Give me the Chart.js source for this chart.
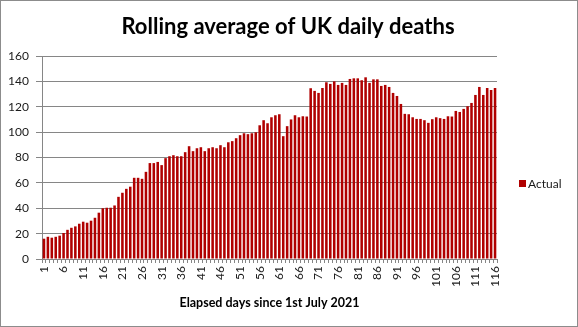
<!DOCTYPE html>
<html>
<head>
<meta charset="utf-8">
<script src="https://cdn.jsdelivr.net/npm/chart.js@4"></script>
<style>
html,body{margin:0;padding:0;background:#fff;}
canvas{display:block;}
</style>
</head>
<body>
<canvas id="c" width="578" height="327"></canvas>
<script>
const days = ['1','2','3','4','5','6','7','8','9','10','11','12','13','14','15','16','17','18','19','20',
'21','22','23','24','25','26','27','28','29','30','31','32','33','34','35','36','37','38','39','40',
'41','42','43','44','45','46','47','48','49','50','51','52','53','54','55','56','57','58','59','60',
'61','62','63','64','65','66','67','68','69','70','71','72','73','74','75','76','77','78','79','80',
'81','82','83','84','85','86','87','88','89','90','91','92','93','94','95','96','97','98','99','100',
'101','102','103','104','105','106','107','108','109','110','111','112','113','114','115','116'];

const actual = [16,17.5,16.8,17.5,18.4,20.5,23,24.6,25.7,27.8,
29.4,28.6,30.2,32.5,36.5,40,40.4,40.4,42.2,49,
52.2,55.3,57,64,64,63.2,68.7,75.6,75.6,76.5,
74,79.5,81,81.8,81,81,84.2,88.9,85,87.3,
88.1,85,87.3,88.1,87.3,89.7,88.1,92,92.9,95.2,
97.6,99.1,98.4,99.1,99.9,105.4,109.4,107,111.7,113.3,
114.1,96.8,104.7,110,113.3,111.7,112.5,112.3,134.6,132.5,
130.9,134.8,139.3,138,140,137.2,138.8,137.2,141.9,142.4,
142.4,140.9,143.2,138.8,141.6,141.6,136.4,137.2,135.6,130.9,
128.5,122.2,114.4,114.1,111.7,110.4,110.4,109.4,107.3,110.2,
111.7,111,110.4,112.5,112.3,116.7,115.9,118.3,120.4,123,
129.3,135.6,129.3,134.8,133.2,134.8];

const shownDayLabels = ['1','6','11','16','21','26','31','36','41','46','51','56','61','66','71','76','81','86','91','96','101','106','111','116'];
const yTicks = [0,20,40,60,80,100,120,140,160];

const seriesName = 'Actual';
const titleText = 'Rolling average of UK daily deaths';
const xTitle = 'Elapsed days since 1st July 2021';

const barColor = '#B00000';
const gridColor = '#868686';
const FONT = 'Lato, "Open Sans", "Liberation Sans", sans-serif';

const framePlugin = {
  id: 'frame',
  beforeDraw(chart) {
    const ctx = chart.ctx;
    ctx.save();
    ctx.fillStyle = '#fff';
    ctx.fillRect(0, 0, chart.width, chart.height);
    ctx.restore();
  },
  afterDraw(chart) {
    const ctx = chart.ctx;
    ctx.save();
    ctx.strokeStyle = '#8c8c8c';
    ctx.lineWidth = 1;
    ctx.strokeRect(0.5, 0.5, chart.width - 1, chart.height - 1);
    // title
    ctx.fillStyle = '#000';
    ctx.font = 'bold 22px ' + FONT;
    ctx.textAlign = 'center';
    ctx.textBaseline = 'middle';
    ctx.fillText(titleText, 288, 27);
    // legend
    const ds = chart.data.datasets[0];
    ctx.fillStyle = ds.backgroundColor;
    ctx.fillRect(519, 180, 7, 7);
    ctx.fillStyle = '#1a1a1a';
    ctx.font = '12px ' + FONT;
    ctx.textBaseline = 'middle';
    ctx.textAlign = 'left';
    ctx.fillText(ds.label, 528, 184);
    ctx.restore();
  }
};

new Chart(document.getElementById('c'), {
  type: 'bar',
  data: {
    labels: days,
    datasets: [{
      label: seriesName,
      data: actual,
      backgroundColor: barColor,
      borderWidth: 0,
      barPercentage: 0.65,
      categoryPercentage: 1.0
    }]
  },
  options: {
    responsive: false,
    animation: false,
    devicePixelRatio: 1,
    layout: { padding: { left: 0, right: 81, top: 56, bottom: 0 } },
    plugins: {
      legend: { display: false },
      tooltip: { enabled: false },
      title: { display: false }
    },
    scales: {
      x: {
        offset: true,
        afterFit(axis) { axis.height = 68; },
        grid: { display: true, drawOnChartArea: false, drawTicks: true, tickLength: 4, color: gridColor, offset: true },
        border: { display: true, color: gridColor },
        ticks: {
          autoSkip: false,
          maxRotation: 90,
          minRotation: 90,
          padding: 3,
          color: '#1a1a1a',
          font: { family: FONT, size: 12 },
          callback(value, index) {
            const l = days[index];
            return shownDayLabels.includes(l) ? l : '';
          }
        },
        title: {
          display: true,
          text: xTitle,
          color: '#000',
          font: { family: FONT, size: 12.5, weight: 'bold' },
          padding: 17
        }
      },
      y: {
        min: yTicks[0],
        max: yTicks[yTicks.length - 1],
        afterFit(axis) { axis.width = 42; },
        afterBuildTicks(axis) { axis.ticks = yTicks.map(v => ({ value: v })); },
        grid: { color: gridColor, drawTicks: true, tickLength: 6 },
        border: { display: true, color: gridColor },
        ticks: {
          stepSize: 20,
          padding: 7,
          color: '#1a1a1a',
          font: { family: FONT, size: 12 }
        }
      }
    }
  },
  plugins: [framePlugin]
});
</script>
</body>
</html>
